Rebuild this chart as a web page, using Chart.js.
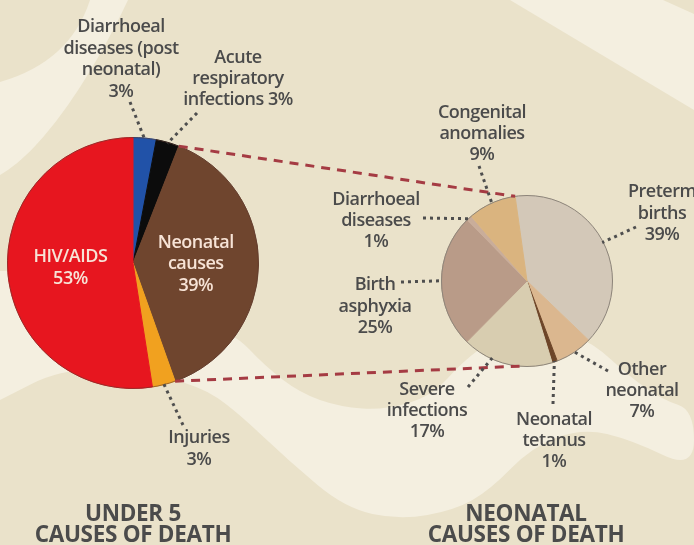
<!DOCTYPE html>
<html>
<head>
<meta charset="utf-8">
<script src="https://cdn.jsdelivr.net/npm/chart.js@4.4.0/dist/chart.umd.min.js"></script>
<style>
    html, body { margin: 0; padding: 0; background: #eae2ca; }
    #stage { position: relative; width: 694px; height: 545px; overflow: hidden; }
    #bg, #overlay { position: absolute; left: 0; top: 0; }
    #under5 { position: absolute; left: 7px; top: 137px; }
    #neonatal { position: absolute; left: 441px; top: 195px; }
</style>
</head>
<body>
<div id="stage">
    <canvas id="bg" width="694" height="545"></canvas>
    <canvas id="under5" width="252" height="252"></canvas>
    <canvas id="neonatal" width="172" height="172"></canvas>
    <canvas id="overlay" width="694" height="545"></canvas>
</div>
<script>
// Datos del gráfico
const under5Labels = ['Diarrhoeal diseases (post neonatal)', 'Acute respiratory infections', 'Neonatal causes', 'Injuries', 'HIV/AIDS'];
const under5Values = [3, 3, 39, 3, 53];
const under5Colors = ['#2152a8', '#0c0c0c', '#6f452e', '#f1a11f', '#e7161f'];

const neonatalLabels = ['Preterm births', 'Other neonatal', 'Neonatal tetanus', 'Severe infections', 'Birth asphyxia', 'Diarrhoeal diseases', 'Congenital anomalies'];
const neonatalValues = [39, 7, 1, 17, 25, 1, 9];
const neonatalColors = ['#d3c8b8', '#dbb78f', '#6d4528', '#d8cdb0', '#b99b88', '#c9ad9a', '#dab47f'];

// Texto de las etiquetas ya cortado en líneas (el % sale de los valores)
const under5Lines = [['Diarrhoeal', 'diseases (post', 'neonatal)'], ['Acute', 'respiratory', 'infections'], ['Neonatal', 'causes'], ['Injuries'], ['HIV/AIDS']];
const neonatalLines = [['Preterm', 'births'], ['Other', 'neonatal'], ['Neonatal', 'tetanus'], ['Severe', 'infections'], ['Birth', 'asphyxia'], ['Diarrhoeal', 'diseases'], ['Congenital', 'anomalies']];
const chartTitles = [['UNDER 5', 'CAUSES OF DEATH'], ['NEONATAL', 'CAUSES OF DEATH']];

// Posición de los textos (x centro, y primera línea base) y fin de la línea punteada
const under5Layout = [
    { x: 121, y: 32, lh: 21.7, end: [130, 102] },
    { x: 238, y: 63, lh: 21, end: [197, 113], inline: true },
    { inside: true },
    { x: 199, y: 443, lh: 22, end: [183, 425] },
    { inside: true }
];
const neonatalLayout = [
    { x: 662, y: 197, lh: 21.5, end: [636, 227] },
    { x: 642, y: 375, lh: 21, end: [608, 371] },
    { x: 554, y: 425, lh: 21, end: [553, 404] },
    { x: 427, y: 395, lh: 21, end: [468, 387], frac: 0.67 },
    { x: 375, y: 290, lh: 21.5, end: [401, 282] },
    { x: 376, y: 205, lh: 21, end: [423, 218] },
    { x: 482, y: 118, lh: 21, end: [479, 166] }
];

const FONT = '600 18px "Open Sans"';
const TEXT_COLOR = '#4b4b4b';

function dibujarFondo() {
    const ctx = document.getElementById('bg').getContext('2d');
    ctx.fillStyle = '#eae2ca';
    ctx.fillRect(0, 0, 694, 545);
    ctx.fillStyle = '#f4efe0';

    // banda clara arriba a la izquierda
    ctx.beginPath();
    ctx.moveTo(90, 0);
    ctx.quadraticCurveTo(70, 62, 0, 82);
    ctx.lineTo(0, 175);
    ctx.bezierCurveTo(45, 150, 95, 70, 128, 0);
    ctx.closePath();
    ctx.fill();

    // banda clara arriba a la derecha
    ctx.beginPath();
    ctx.moveTo(510, 0);
    ctx.lineTo(694, 110);
    ctx.lineTo(694, 14);
    ctx.lineTo(663, 0);
    ctx.closePath();
    ctx.fill();

    // onda clara de abajo
    const top = [[0, 271], [70, 268], [150, 300], [233, 332], [265, 366], [300, 393], [340, 407], [385, 410], [432, 396], [462, 362], [495, 338], [560, 332], [592, 342], [630, 377], [663, 400], [694, 410]];
    const bottom = [[694, 470], [632, 440], [582, 428], [532, 447], [490, 490], [455, 510], [400, 520], [345, 508], [290, 462], [235, 410], [200, 386], [140, 372], [63, 368], [0, 400]];
    const pts = top.concat(bottom);
    ctx.beginPath();
    ctx.moveTo(pts[0][0], pts[0][1]);
    for (let i = 1; i < pts.length - 1; i++) {
        const mx = (pts[i][0] + pts[i + 1][0]) / 2;
        const my = (pts[i][1] + pts[i + 1][1]) / 2;
        ctx.quadraticCurveTo(pts[i][0], pts[i][1], mx, my);
    }
    ctx.lineTo(pts[pts.length - 1][0], pts[pts.length - 1][1]);
    ctx.closePath();
    ctx.fill();
}

// contorno fino de la tarta
function outlinePlugin(color) {
    return {
        id: 'outline',
        afterDatasetsDraw(chart) {
            const arc = chart.getDatasetMeta(0).data[0];
            const ctx = chart.ctx;
            ctx.save();
            ctx.strokeStyle = color;
            ctx.lineWidth = 1;
            ctx.beginPath();
            ctx.arc(arc.x, arc.y, arc.outerRadius, 0, Math.PI * 2);
            ctx.stroke();
            ctx.restore();
        }
    };
}

// etiquetas dentro de los sectores grandes
const insideLabelPlugin = {
    id: 'insideLabels',
    afterDatasetsDraw(chart) {
        const ctx = chart.ctx;
        const meta = chart.getDatasetMeta(0);
        ctx.save();
        ctx.font = FONT;
        ctx.letterSpacing = '-0.5px';
        ctx.fillStyle = '#f7e3d6';
        ctx.textAlign = 'center';
        ctx.textBaseline = 'middle';
        meta.data.forEach((arc, i) => {
            if (!under5Layout[i].inside) return;
            const mid = (arc.startAngle + arc.endAngle) / 2;
            const cx = arc.x + Math.cos(mid) * arc.outerRadius * 0.5;
            const cy = arc.y + Math.sin(mid) * arc.outerRadius * 0.5;
            const lines = under5Lines[i].concat([under5Values[i] + '%']);
            const lh = 21.5;
            lines.forEach((t, k) => {
                ctx.fillText(t, cx, cy + (k - (lines.length - 1) / 2) * lh);
            });
        });
        ctx.restore();
    }
};

function crearTarta(id, labels, values, colors, rotation, extraPlugins) {
    return new Chart(document.getElementById(id), {
        type: 'pie',
        data: {
            labels: labels,
            datasets: [{
                data: values,
                backgroundColor: colors,
                borderColor: colors,
                borderWidth: 1
            }]
        },
        options: {
            responsive: false,
            animation: false,
            rotation: rotation,
            layout: { padding: 0 },
            plugins: {
                legend: { display: false },
                tooltip: { enabled: false }
            }
        },
        plugins: extraPlugins
    });
}

// punto del borde de un sector, en coordenadas de la página
function puntoBorde(chart, offset, angle, r) {
    const arc = chart.getDatasetMeta(0).data[0];
    const rad = r === undefined ? arc.outerRadius : r;
    return [offset[0] + arc.x + Math.cos(angle) * rad, offset[1] + arc.y + Math.sin(angle) * rad];
}

function dibujarAnotaciones(under5Chart, neonatalChart) {
    const ctx = document.getElementById('overlay').getContext('2d');
    const offU = [7, 137];
    const offN = [441, 195];
    const arcsU = under5Chart.getDatasetMeta(0).data;
    const arcsN = neonatalChart.getDatasetMeta(0).data;

    // líneas rojas discontinuas entre las dos tartas
    const neo = arcsU[2];
    const pre = arcsN[0];
    const a1 = puntoBorde(under5Chart, offU, neo.startAngle);
    const b1 = puntoBorde(neonatalChart, offN, pre.startAngle);
    const a2 = puntoBorde(under5Chart, offU, neo.endAngle);
    const b2 = puntoBorde(neonatalChart, offN, (185 - 90) * Math.PI / 180);
    ctx.save();
    ctx.strokeStyle = '#a53b43';
    ctx.lineWidth = 3;
    ctx.setLineDash([9, 7]);
    ctx.beginPath();
    ctx.moveTo(a1[0], a1[1]);
    ctx.lineTo(b1[0], b1[1]);
    ctx.moveTo(a2[0], a2[1]);
    ctx.lineTo(b2[0], b2[1]);
    ctx.stroke();
    ctx.restore();

    function etiquetas(chart, offset, arcs, layout, lines, values) {
        arcs.forEach((arc, i) => {
            const lay = layout[i];
            if (lay.inside) return;
            const frac = lay.frac === undefined ? 0.5 : lay.frac;
            const ang = arc.startAngle + (arc.endAngle - arc.startAngle) * frac;
            const p = puntoBorde(chart, offset, ang, arc.outerRadius - 1);

            // línea punteada
            ctx.save();
            ctx.strokeStyle = '#4e4e4e';
            ctx.lineWidth = 3;
            ctx.setLineDash([3, 4]);
            ctx.beginPath();
            ctx.moveTo(lay.end[0], lay.end[1]);
            ctx.lineTo(p[0], p[1]);
            ctx.stroke();
            ctx.restore();

            // texto
            let txt = lines[i].slice();
            if (lay.inline) {
                txt[txt.length - 1] += ' ' + values[i] + '%';
            } else {
                txt.push(values[i] + '%');
            }
            ctx.font = FONT;
            ctx.letterSpacing = '-0.5px';
            ctx.fillStyle = TEXT_COLOR;
            ctx.textAlign = 'center';
            ctx.textBaseline = 'alphabetic';
            txt.forEach((t, k) => ctx.fillText(t, lay.x, lay.y + k * lay.lh));
        });
    }
    etiquetas(under5Chart, offU, arcsU, under5Layout, under5Lines, under5Values);
    etiquetas(neonatalChart, offN, arcsN, neonatalLayout, neonatalLines, neonatalValues);

    // títulos de abajo
    ctx.font = 'bold 22.5px "Open Sans"';
    ctx.letterSpacing = '-0.3px';
    ctx.fillStyle = TEXT_COLOR;
    ctx.textAlign = 'center';
    [133, 526].forEach((x, i) => {
        ctx.fillText(chartTitles[i][0], x, 521);
        ctx.fillText(chartTitles[i][1], x, 542);
    });
}

dibujarFondo();
const under5Chart = crearTarta('under5', under5Labels, under5Values, under5Colors, 0, [outlinePlugin('rgba(90,55,45,0.55)'), insideLabelPlugin]);
const neonatalChart = crearTarta('neonatal', neonatalLabels, neonatalValues, neonatalColors, -8, [outlinePlugin('#8d857a')]);
dibujarAnotaciones(under5Chart, neonatalChart);
</script>
</body>
</html>
